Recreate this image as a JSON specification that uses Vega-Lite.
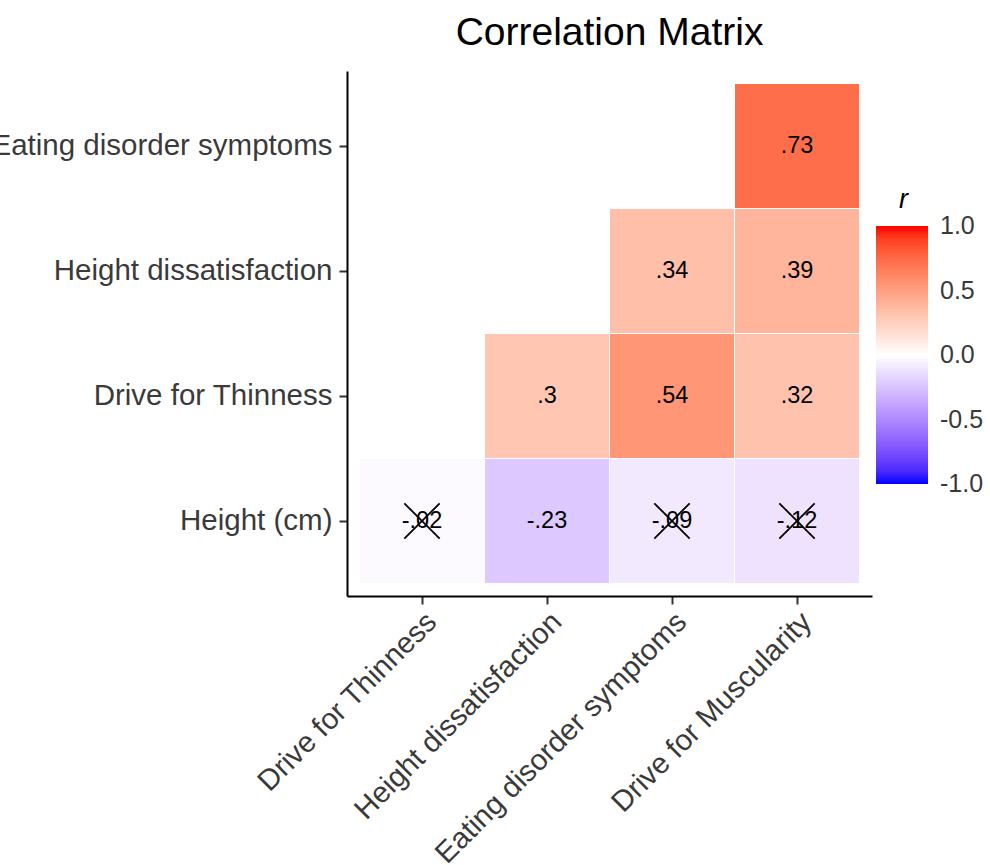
{
  "$schema": "https://vega.github.io/schema/vega-lite/v6.json",
  "width": 525,
  "height": 525,
  "autosize": {"type": "none"},
  "padding": {"left": 347, "top": 71, "right": 118, "bottom": 269},
  "background": "white",
  "title": {
    "text": "Correlation Matrix",
    "fontSize": 39,
    "fontWeight": "normal",
    "color": "black",
    "anchor": "middle",
    "frame": "group",
    "baseline": "bottom",
    "offset": 17,
    "dy": 38
  },
  "data": {
    "values": [
      {"col": "Drive for Thinness", "row": "Height (cm)", "r": -0.02, "label": "-.02", "sig": false},
      {"col": "Height dissatisfaction", "row": "Height (cm)", "r": -0.23, "label": "-.23", "sig": true},
      {"col": "Eating disorder symptoms", "row": "Height (cm)", "r": -0.09, "label": "-.09", "sig": false},
      {"col": "Drive for Muscularity", "row": "Height (cm)", "r": -0.12, "label": "-.12", "sig": false},
      {"col": "Height dissatisfaction", "row": "Drive for Thinness", "r": 0.3, "label": ".3", "sig": true},
      {"col": "Eating disorder symptoms", "row": "Drive for Thinness", "r": 0.54, "label": ".54", "sig": true},
      {"col": "Drive for Muscularity", "row": "Drive for Thinness", "r": 0.32, "label": ".32", "sig": true},
      {"col": "Eating disorder symptoms", "row": "Height dissatisfaction", "r": 0.34, "label": ".34", "sig": true},
      {"col": "Drive for Muscularity", "row": "Height dissatisfaction", "r": 0.39, "label": ".39", "sig": true},
      {"col": "Drive for Muscularity", "row": "Eating disorder symptoms", "r": 0.73, "label": ".73", "sig": true}
    ]
  },
  "encoding": {
    "x": {
      "field": "col",
      "type": "nominal",
      "sort": ["Drive for Thinness", "Height dissatisfaction", "Eating disorder symptoms", "Drive for Muscularity"],
      "scale": {"paddingInner": 0, "paddingOuter": 0.1},
      "axis": {
        "title": null,
        "labelAngle": -45,
        "labelAlign": "right",
        "labelBaseline": "top",
        "labelPadding": 3,
        "labelFontSize": 29.5,
        "labelColor": "#3a3a3a",
        "tickSize": 8,
        "tickColor": "#333333",
        "tickWidth": 2,
        "domainColor": "black",
        "domainWidth": 2,
        "grid": false,
        "labelLimit": 0
      }
    },
    "y": {
      "field": "row",
      "type": "nominal",
      "sort": ["Eating disorder symptoms", "Height dissatisfaction", "Drive for Thinness", "Height (cm)"],
      "scale": {"paddingInner": 0, "paddingOuter": 0.1},
      "axis": {
        "title": null,
        "labelPadding": 7,
        "labelFontSize": 29.5,
        "labelColor": "#3a3a3a",
        "tickSize": 8,
        "tickColor": "#333333",
        "tickWidth": 2,
        "domainColor": "black",
        "domainWidth": 2,
        "grid": false,
        "labelLimit": 0
      }
    }
  },
  "layer": [
    {
      "mark": {"type": "rect", "stroke": "white", "strokeWidth": 1},
      "encoding": {
        "color": {
          "field": "r",
          "type": "quantitative",
          "scale": {"domain": [-1, 0, 1], "range": ["blue", "white", "red"], "interpolate": "lab"},
          "legend": {
            "title": "r",
            "titleFontStyle": "italic",
            "titleFontWeight": "normal",
            "titleFontSize": 27,
            "titleColor": "black",
            "titleAnchor": "start",
            "titlePadding": 12,
            "orient": "none",
            "legendX": 529,
            "legendY": 116,
            "direction": "vertical",
            "gradientLength": 258,
            "gradientThickness": 52,
            "gradientStrokeWidth": 0,
            "values": [1, 0.5, 0, -0.5, -1],
            "labelExpr": "(datum.value < 0 ? '-' : '') + format(abs(datum.value), '.1f')",
            "labelFontSize": 25,
            "labelOverlap": false,
            "labelColor": "#3a3a3a",
            "labelOffset": 12,
            "padding": 0,
            "encode": {
              "labels": {"update": {"baseline": {"value": "middle"}}},
              "title": {"update": {"dx": {"value": 23}}}
            }
          }
        }
      }
    },
    {
      "mark": {"type": "text", "fontSize": 23.5, "color": "black"},
      "encoding": {"text": {"field": "label"}}
    },
    {
      "transform": [{"filter": "datum.sig == false"}],
      "mark": {
        "type": "point",
        "shape": "M-1,-1L1,1M-1,1L1,-1",
        "filled": false,
        "stroke": "black",
        "strokeWidth": 1.8,
        "size": 1250,
        "opacity": 1
      }
    }
  ],
  "config": {
    "font": "Liberation Sans",
    "view": {"stroke": null},
    "legend": {"labelFont": "Liberation Sans", "titleFont": "Liberation Sans"}
  }
}
